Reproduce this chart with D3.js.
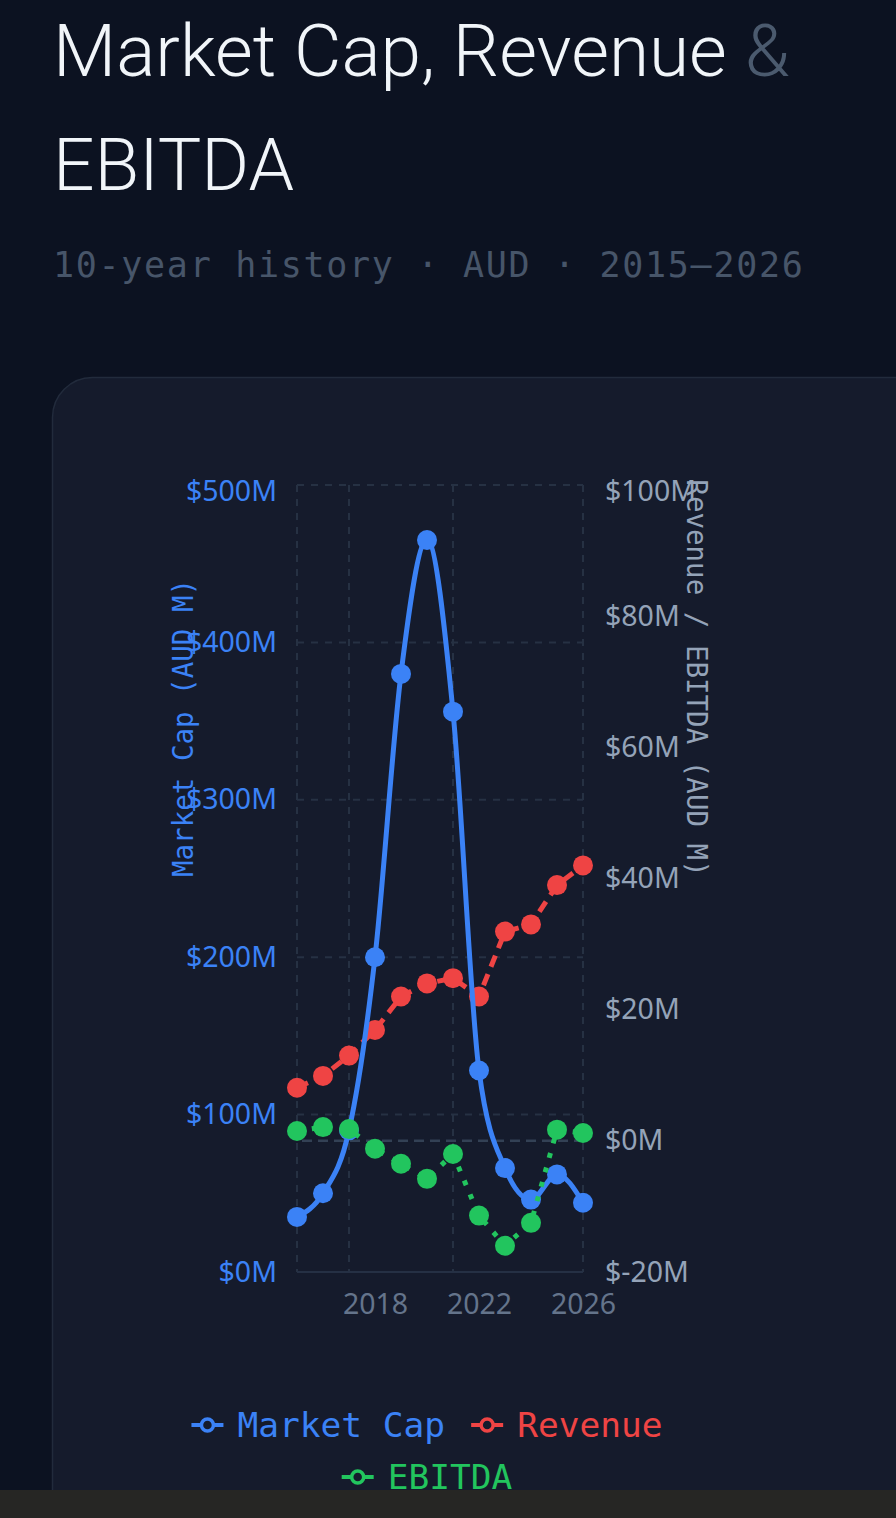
<!DOCTYPE html>
<html>
<head>
<meta charset="utf-8">
<script src="https://cdn.jsdelivr.net/npm/d3@7"></script>
<style>
  html, body { margin: 0; padding: 0; background: #0c1221; }
  svg { display: block; }
</style>
</head>
<body>
<svg id="chart" width="896" height="1518"></svg>
<script>
// ---- data ----
const years = [2015, 2016, 2017, 2018, 2019, 2020, 2021, 2022, 2023, 2024, 2025, 2026];
const marketCap = [35, 50, 90, 200, 380, 465, 356, 128, 66, 46, 62, 44];          // AUD M (left axis)
const revenue   = [8.1, 9.9, 13, 16.9, 22, 24, 24.8, 22, 31.9, 33, 39, 42];      // AUD M (right axis)
const ebitda    = [1.5, 2.1, 1.8, -1.2, -3.5, -5.8, -2, -11.4, -16, -12.5, 1.7, 1.2];
const leftTicks  = [0, 100, 200, 300, 400, 500];
const rightTicks = [-20, 0, 20, 40, 60, 80, 100];
const xTicks     = [2018, 2022, 2026];
const xGrid      = [2015, 2017, 2021, 2026];
const seriesNames = ["Market Cap", "Revenue", "EBITDA"];

// ---- styling ----
const C = { blue: "#3b82f6", red: "#ef4444", green: "#22c55e", page: "#0c1221", card: "#151b2c",
            grid: "#263143", axisGrey: "#94a3b8", xGrey: "#64748b", sub: "#475569" };
const mono = "'DejaVu Sans Mono', monospace";
const sans = "'Noto Sans', sans-serif";

const svg = d3.select("#chart");

svg.append("rect").attr("x", 0).attr("y", 0).attr("width", 896).attr("height", 1518).attr("fill", C.page);

// title
const title = svg.append("text").attr("x", 53).attr("y", 76)
  .attr("font-family", "Roboto, sans-serif").attr("font-weight", 300).attr("font-size", 73)
  .attr("fill", "#f1f5f9");
title.append("tspan").text("Market Cap, Revenue ");
title.append("tspan").attr("fill", "#4b5a6e").text("&");
svg.append("text").attr("x", 53).attr("y", 190)
  .attr("font-family", "Roboto, sans-serif").attr("font-weight", 300).attr("font-size", 73)
  .attr("fill", "#f1f5f9").text("EBITDA");

svg.append("text").attr("x", 53).attr("y", 277)
  .attr("font-family", mono).attr("font-size", 35).attr("letter-spacing", 1.7)
  .attr("fill", C.sub).text("10-year history · AUD · 2015–2026");

// card
svg.append("rect").attr("x", 52.5).attr("y", 377.5).attr("width", 900).attr("height", 1200)
  .attr("rx", 40).attr("fill", C.card).attr("stroke", "#222b3c").attr("stroke-width", 1.5);

// ---- scales ----
const x  = d3.scaleLinear().domain([2015, 2026]).range([297, 583]);
const yL = d3.scaleLinear().domain([0, 500]).range([1272, 485]);
const yR = d3.scaleLinear().domain([-20, 100]).range([1272, 485]);

const g = svg.append("g");

// grid
g.selectAll("line.hg").data(leftTicks.filter(d => d > 0)).join("line")
  .attr("x1", x.range()[0]).attr("x2", x.range()[1])
  .attr("y1", d => yL(d)).attr("y2", d => yL(d))
  .attr("stroke", C.grid).attr("stroke-width", 2).attr("stroke-dasharray", "7,7");
g.selectAll("line.vg").data(xGrid).join("line")
  .attr("x1", d => x(d)).attr("x2", d => x(d))
  .attr("y1", yL.range()[1]).attr("y2", yL.range()[0])
  .attr("stroke", C.grid).attr("stroke-width", 2).attr("stroke-dasharray", "7,7");
g.append("line").attr("x1", x.range()[0]).attr("x2", x.range()[1])
  .attr("y1", yL(0)).attr("y2", yL(0)).attr("stroke", "#253044").attr("stroke-width", 2);
// zero reference line on right axis
g.append("line").attr("x1", x.range()[0]).attr("x2", x.range()[1])
  .attr("y1", yR(0)).attr("y2", yR(0)).attr("stroke", "#334155").attr("stroke-width", 2.5)
  .attr("stroke-dasharray", "10,6").attr("stroke-dashoffset", -5);

// axes
const axL = g.append("g").attr("transform", `translate(${x.range()[0]},0)`)
  .call(d3.axisLeft(yL).tickValues(leftTicks).tickFormat(d => `$${d}M`).tickSize(0).tickPadding(20));
const axR = g.append("g").attr("transform", `translate(${x.range()[1]},0)`)
  .call(d3.axisRight(yR).tickValues(rightTicks).tickFormat(d => `$${d}M`).tickSize(0).tickPadding(22));
const axB = g.append("g").attr("transform", `translate(0,${yL(0)})`)
  .call(d3.axisBottom(x).tickValues(xTicks).tickFormat(d3.format("d")).tickSize(0).tickPadding(22));
[axL, axR, axB].forEach(a => { a.select(".domain").remove(); a.selectAll("text").attr("font-family", sans).attr("font-size", 28.5); });
axL.selectAll("text").attr("fill", C.blue);
axR.selectAll("text").attr("fill", C.axisGrey);
axB.selectAll("text").attr("fill", C.xGrey);
// top labels are kept inside the plot's top edge
axL.selectAll(".tick").filter(d => d === d3.max(leftTicks)).select("text").attr("y", 6);
axR.selectAll(".tick").filter(d => d === d3.max(rightTicks)).select("text").attr("y", 6);

// axis titles
svg.append("text").attr("transform", `translate(193,728) rotate(-90)`).attr("text-anchor", "middle")
  .attr("font-family", mono).attr("font-size", 27.5).attr("fill", C.blue).text("Market Cap (AUD M)");
svg.append("text").attr("transform", `translate(687,678) rotate(90)`).attr("text-anchor", "middle")
  .attr("font-family", mono).attr("font-size", 27.5).attr("fill", C.axisGrey).text("Revenue / EBITDA (AUD M)");

// ---- series ----
function drawSeries(values, yScale, color, curve, dash, width) {
  const data = years.map((yr, i) => ({ yr, v: values[i] }));
  const line = d3.line().x(d => x(d.yr)).y(d => yScale(d.v)).curve(curve);
  const sg = g.append("g");
  sg.append("path").datum(data).attr("d", line).attr("fill", "none")
    .attr("stroke", color).attr("stroke-width", width).attr("stroke-dasharray", dash)
    .attr("stroke-linejoin", "round");
  sg.selectAll("circle").data(data).join("circle")
    .attr("cx", d => x(d.yr)).attr("cy", d => yScale(d.v)).attr("r", 10).attr("fill", color);
}
drawSeries(revenue, yR, C.red, d3.curveLinear, "12,8", 5);
drawSeries(marketCap, yL, C.blue, d3.curveMonotoneX, null, 5);
drawSeries(ebitda, yR, C.green, d3.curveLinear, "5,10", 5);

// ---- legend ----
const legendColors = [C.blue, C.red, C.green];
const rows = [[0, 1], [2]];
const rowY = [1425, 1477];
const cx = 427;
rows.forEach((row, ri) => {
  const lg = svg.append("g");
  let cursor = 0;
  row.forEach((si) => {
    const it = lg.append("g").attr("transform", `translate(${cursor},0)`);
    it.append("line").attr("x1", 0).attr("x2", 32).attr("y1", 0).attr("y2", 0)
      .attr("stroke", legendColors[si]).attr("stroke-width", 4);
    it.append("circle").attr("cx", 16).attr("cy", 0).attr("r", 6)
      .attr("fill", C.card).attr("stroke", legendColors[si]).attr("stroke-width", 3.5);
    const t = it.append("text").attr("x", 46).attr("y", 0).attr("dy", "0.36em")
      .attr("font-family", mono).attr("font-size", 34.5).attr("fill", legendColors[si]).text(seriesNames[si]);
    cursor += 46 + t.node().getComputedTextLength() + 26;
  });
  const w = cursor - 26;
  lg.attr("transform", `translate(${cx - w / 2},${rowY[ri]})`);
});

// bottom strip
svg.append("rect").attr("x", 0).attr("y", 1490).attr("width", 896).attr("height", 28).attr("fill", "#262624");
</script>
</body>
</html>
